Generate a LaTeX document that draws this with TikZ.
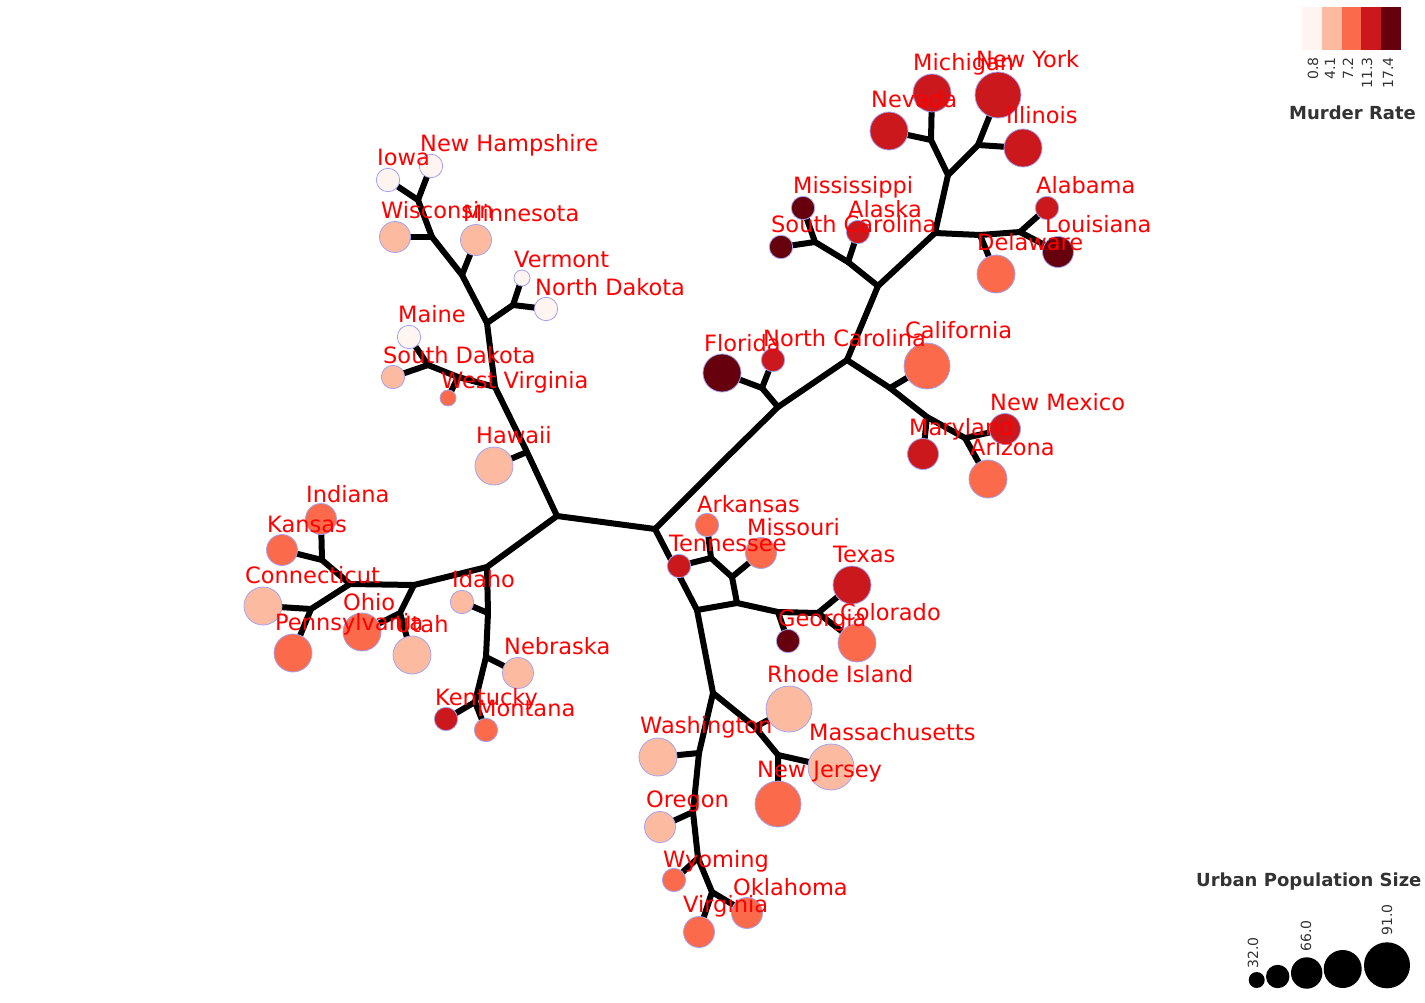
\documentclass[tikz,border=0pt]{standalone}
\usepackage{fontspec}
\setmainfont{DejaVu Sans}
\usetikzlibrary{backgrounds}
\definecolor{ca}{HTML}{FFF5F0}
\definecolor{cb}{HTML}{FCBBA1}
\definecolor{cc}{HTML}{FB6A4A}
\definecolor{cd}{HTML}{CB181D}
\definecolor{ce}{HTML}{67000D}
\definecolor{outl}{HTML}{A3A3F2}
\definecolor{legtext}{HTML}{333333}
\tikzset{
  br/.style={line width=6pt, line join=round, line cap=round},
  leaf/.style={circle, inner sep=0pt, draw=outl, line width=0.8pt},
  sa/.style={leaf, minimum size=16pt},
  sb/.style={leaf, minimum size=23.4pt},
  sc/.style={leaf, minimum size=31pt},
  sd/.style={leaf, minimum size=38pt},
  se/.style={leaf, minimum size=46pt},
  lbl/.style={anchor=base west, inner sep=0pt, text=red, font=\fontsize{22.5}{27}\selectfont},
  legtitle/.style={anchor=base west, inner sep=0pt, text=legtext, font=\fontsize{18}{21}\selectfont\bfseries},
  tickl/.style={rotate=90, inner sep=0pt, text=legtext, font=\fontsize{14}{17}\selectfont},
  sq/.style={rectangle, inner sep=0pt, minimum width=20pt, minimum height=43pt},
  dot/.style={circle, inner sep=0pt, fill=black},
}
\begin{document}
\begin{tikzpicture}[x=1pt,y=-1pt]
\useasboundingbox (0,0) rectangle (1425,1003);
% ---------- junction coordinates ----------
\coordinate (A) at (557,516);
\coordinate (B) at (655,529);
\coordinate (hwJ) at (527,452);
\coordinate (wvM) at (495,387);
\coordinate (vtM) at (487,323);
\coordinate (mnJ) at (462,275);
\coordinate (wiJ) at (432,237);
\coordinate (iaJ) at (418,200);
\coordinate (vtJ) at (513,305);
\coordinate (wvJ) at (458,377);
\coordinate (meJ) at (428,365);
\coordinate (L1) at (487,567);
\coordinate (L2) at (414,585);
\coordinate (idJ) at (488,613);
\coordinate (neJ) at (486,657);
\coordinate (kyJ) at (475,702);
\coordinate (ohJ) at (400,613);
\coordinate (L3) at (350,584);
\coordinate (ksJ) at (322,560);
\coordinate (ctJ) at (311,609);
\coordinate (R1) at (717,467);
\coordinate (R2) at (778,407);
\coordinate (flJ) at (762,388);
\coordinate (R3) at (847,360);
\coordinate (caJ) at (890,388);
\coordinate (mdJ) at (927,417);
\coordinate (nmJ) at (965,438);
\coordinate (R4) at (878,286);
\coordinate (akJ) at (848,262);
\coordinate (msJ) at (815,242);
\coordinate (R5) at (935,233);
\coordinate (deJ) at (980,235);
\coordinate (alJ) at (1020,232);
\coordinate (R6) at (948,175);
\coordinate (miJ) at (931,140);
\coordinate (nyJ) at (978,145);
\coordinate (S1) at (697,610);
\coordinate (S2) at (737,603);
\coordinate (moJ) at (732,577);
\coordinate (arJ) at (711,558);
\coordinate (gaJ) at (778,612);
\coordinate (txJ) at (818,613);
\coordinate (S3) at (713,693);
\coordinate (riJ) at (755,727);
\coordinate (njJ) at (778,755);
\coordinate (waJ) at (699,753);
\coordinate (orJ) at (693,812);
\coordinate (wyJ) at (698,858);
\coordinate (vaJ) at (712,892);
% ---------- leaves ----------
\node[sb, fill=ca] (IA) at (388,180) {};
\node[sb, fill=ca] (NH) at (431,166) {};
\node[sc, fill=cb] (WI) at (395,237) {};
\node[sc, fill=cb] (MN) at (476,240) {};
\node[sa, fill=ca] (VT) at (522,278) {};
\node[sb, fill=ca] (ND) at (546,309) {};
\node[sb, fill=ca] (ME) at (409,337) {};
\node[sb, fill=cb] (SD) at (393,377) {};
\node[sa, fill=cc] (WV) at (448,398) {};
\node[sd, fill=cb] (HI) at (494,466) {};
\node[sb, fill=cb] (ID) at (462,602) {};
\node[sc, fill=cb] (NE) at (518,673) {};
\node[sb, fill=cd] (KY) at (446,719) {};
\node[sb, fill=cc] (MT) at (486,730) {};
\node[sd, fill=cc] (OH) at (362,632) {};
\node[sd, fill=cb] (UT) at (412,655) {};
\node[sc, fill=cc] (KS) at (282,550) {};
\node[sc, fill=cc] (IN) at (321,519) {};
\node[sd, fill=cb] (CT) at (263,606) {};
\node[sd, fill=cc] (PA) at (293,653) {};
\node[sd, fill=ce] (FL) at (722,373) {};
\node[sb, fill=cd] (NC) at (773,360) {};
\node[se, fill=cc] (CA) at (927,366) {};
\node[sc, fill=cd] (MD) at (923,454) {};
\node[sc, fill=cd] (NM) at (1005,429) {};
\node[sd, fill=cc] (AZ) at (988,479) {};
\node[sb, fill=cd] (AK) at (858,232) {};
\node[sb, fill=ce] (MS) at (803,208) {};
\node[sb, fill=ce] (SC) at (781,247) {};
\node[sd, fill=cc] (DE) at (996,274) {};
\node[sb, fill=cd] (AL) at (1047,208) {};
\node[sc, fill=ce] (LA) at (1058,252) {};
\node[sd, fill=cd] (MI) at (932,93) {};
\node[sd, fill=cd] (NV) at (889,131) {};
\node[se, fill=cd] (NY) at (998,95) {};
\node[sd, fill=cd] (IL) at (1023,148) {};
\node[sc, fill=cc] (MO) at (761,553) {};
\node[sb, fill=cc] (AR) at (707,525) {};
\node[sb, fill=cd] (TN) at (679,566) {};
\node[sb, fill=ce] (GA) at (788,641) {};
\node[sd, fill=cd] (TX) at (852,585) {};
\node[sd, fill=cc] (CO) at (857,643) {};
\node[se, fill=cb] (RI) at (789,709) {};
\node[se, fill=cb] (MA) at (831,767) {};
\node[se, fill=cc] (NJ) at (778,804) {};
\node[sd, fill=cb] (WA) at (658,757) {};
\node[sc, fill=cb] (OR) at (660,827) {};
\node[sb, fill=cc] (WY) at (674,880) {};
\node[sc, fill=cc] (VA) at (699,932) {};
\node[sc, fill=cc] (OK) at (747,913) {};
% ---------- branches ----------
\begin{scope}[on background layer]
\draw[br] (A) -- (B);
\draw[br] (A) -- (hwJ) -- (wvM) -- (vtM) -- (mnJ) -- (wiJ) -- (iaJ) -- (IA.center);
\draw[br] (iaJ) -- (NH.center);
\draw[br] (wiJ) -- (WI.center);
\draw[br] (mnJ) -- (MN.center);
\draw[br] (vtM) -- (vtJ) -- (VT.center);
\draw[br] (vtJ) -- (ND.center);
\draw[br] (wvM) -- (wvJ) -- (meJ) -- (ME.center);
\draw[br] (meJ) -- (SD.center);
\draw[br] (wvJ) -- (WV.center);
\draw[br] (hwJ) -- (HI.center);
\draw[br] (A) -- (L1) -- (L2) -- (L3) -- (ksJ) -- (KS.center);
\draw[br] (ksJ) -- (IN.center);
\draw[br] (L3) -- (ctJ) -- (CT.center);
\draw[br] (ctJ) -- (PA.center);
\draw[br] (L2) -- (ohJ) -- (OH.center);
\draw[br] (ohJ) -- (UT.center);
\draw[br] (L1) -- (idJ) -- (ID.center);
\draw[br] (idJ) -- (neJ) -- (NE.center);
\draw[br] (neJ) -- (kyJ) -- (KY.center);
\draw[br] (kyJ) -- (MT.center);
\draw[br] (B) -- (R1) -- (R2) -- (flJ) -- (FL.center);
\draw[br] (flJ) -- (NC.center);
\draw[br] (R2) -- (R3) -- (caJ) -- (CA.center);
\draw[br] (caJ) -- (mdJ) -- (MD.center);
\draw[br] (mdJ) -- (nmJ) -- (NM.center);
\draw[br] (nmJ) -- (AZ.center);
\draw[br] (R3) -- (R4) -- (akJ) -- (AK.center);
\draw[br] (akJ) -- (msJ) -- (MS.center);
\draw[br] (msJ) -- (SC.center);
\draw[br] (R4) -- (R5) -- (deJ) -- (DE.center);
\draw[br] (deJ) -- (alJ) -- (AL.center);
\draw[br] (alJ) -- (LA.center);
\draw[br] (R5) -- (R6) -- (miJ) -- (MI.center);
\draw[br] (miJ) -- (NV.center);
\draw[br] (R6) -- (nyJ) -- (NY.center);
\draw[br] (nyJ) -- (IL.center);
\draw[br] (B) -- (S1) -- (S2) -- (moJ) -- (MO.center);
\draw[br] (moJ) -- (arJ) -- (AR.center);
\draw[br] (arJ) -- (TN.center);
\draw[br] (S2) -- (gaJ) -- (GA.center);
\draw[br] (gaJ) -- (txJ) -- (TX.center);
\draw[br] (txJ) -- (CO.center);
\draw[br] (S1) -- (S3) -- (riJ) -- (RI.center);
\draw[br] (riJ) -- (njJ) -- (NJ.center);
\draw[br] (njJ) -- (MA.center);
\draw[br] (S3) -- (waJ) -- (WA.center);
\draw[br] (waJ) -- (orJ) -- (OR.center);
\draw[br] (orJ) -- (wyJ) -- (WY.center);
\draw[br] (wyJ) -- (vaJ) -- (VA.center);
\draw[br] (vaJ) -- (OK.center);
\end{scope}
% ---------- labels ----------
\node[lbl] (IAt) at (377,166) {Iowa};
\node[lbl] (NHt) at (420,152) {New Hampshire};
\node[lbl] (WIt) at (381,219) {Wisconsin};
\node[lbl] (MNt) at (463,222) {Minnesota};
\node[lbl] (VTt) at (514,268) {Vermont};
\node[lbl] (NDt) at (535,295) {North Dakota};
\node[lbl] (MEt) at (398,323) {Maine};
\node[lbl] (SDt) at (383,363) {South Dakota};
\node[lbl] (WVt) at (441,388) {West Virginia};
\node[lbl] (HIt) at (476,443) {Hawaii};
\node[lbl] (INt) at (306,502) {Indiana};
\node[lbl] (KSt) at (267,532) {Kansas};
\node[lbl] (CTt) at (245,583) {Connecticut};
\node[lbl] (OHt) at (343,610) {Ohio};
\node[lbl] (PAt) at (275,630) {Pennsylvania};
\node[lbl] (UTt) at (395,632) {Utah};
\node[lbl] (IDt) at (452,587) {Idaho};
\node[lbl] (NEt) at (504,654) {Nebraska};
\node[lbl] (KYt) at (435,705) {Kentucky};
\node[lbl] (MTt) at (477,716) {Montana};
\node[lbl] (MIt) at (913,71) {Michigan};
\node[lbl] (NYt) at (976,68) {New York};
\node[lbl] (NVt) at (871,108) {Nevada};
\node[lbl] (ILt) at (1006,124) {Illinois};
\node[lbl] (MSt) at (793,194) {Mississippi};
\node[lbl] (AKt) at (848,218) {Alaska};
\node[lbl] (SCt) at (771,233) {South Carolina};
\node[lbl] (ALt) at (1036,194) {Alabama};
\node[lbl] (LAt) at (1045,233) {Louisiana};
\node[lbl] (DEt) at (977,251) {Delaware};
\node[lbl] (CAt) at (905,338) {California};
\node[lbl] (FLt) at (704,351) {Florida};
\node[lbl] (NCt) at (763,346) {North Carolina};
\node[lbl] (NMt) at (990,410) {New Mexico};
\node[lbl] (MDt) at (909,435) {Maryland};
\node[lbl] (AZt) at (970,455) {Arizona};
\node[lbl] (ARt) at (697,512) {Arkansas};
\node[lbl] (MOt) at (747,535) {Missouri};
\node[lbl] (TNt) at (669,551) {Tennessee};
\node[lbl] (TXt) at (833,562) {Texas};
\node[lbl] (COt) at (840,620) {Colorado};
\node[lbl] (GAt) at (778,626) {Georgia};
\node[lbl] (RIt) at (767,682) {Rhode Island};
\node[lbl] (WAt) at (640,733) {Washington};
\node[lbl] (MAt) at (809,740) {Massachusetts};
\node[lbl] (NJt) at (757,777) {New Jersey};
\node[lbl] (ORt) at (646,807) {Oregon};
\node[lbl] (WYt) at (663,867) {Wyoming};
\node[lbl] (OKt) at (733,895) {Oklahoma};
\node[lbl] (VAt) at (683,912) {Virginia};
% ---------- murder rate legend ----------
\node[sq, fill=ca] (q1) at (1311.9,28.5) {};
\node[sq, fill=cb] (q2) at (1331.7,28.5) {};
\node[sq, fill=cc] (q3) at (1351.5,28.5) {};
\node[sq, fill=cd] (q4) at (1371.3,28.5) {};
\node[sq, fill=ce] (q5) at (1391.1,28.5) {};
\node[tickl, anchor=base east] (t1) at (1318,57) {0.8};
\node[tickl, anchor=base east] (t2) at (1335,57) {4.1};
\node[tickl, anchor=base east] (t3) at (1353,57) {7.2};
\node[tickl, anchor=base east] (t4) at (1372,57) {11.3};
\node[tickl, anchor=base east] (t5) at (1393,57) {17.4};
\node[legtitle] (mrt) at (1289,120) {Murder Rate};
% ---------- urban population legend ----------
\node[legtitle] (upt) at (1196,886) {Urban Population Size};
\node[dot, minimum size=16pt] (d1) at (1256.7,980) {};
\node[dot, minimum size=23.4pt] (d2) at (1277.7,976.5) {};
\node[dot, minimum size=31.4pt] (d3) at (1306.7,973) {};
\node[dot, minimum size=38pt] (d4) at (1342.7,969) {};
\node[dot, minimum size=46pt] (d5) at (1387,965.3) {};
\node[tickl, anchor=base west] (u1) at (1258,969) {32.0};
\node[tickl, anchor=base west] (u2) at (1311,952) {66.0};
\node[tickl, anchor=base west] (u3) at (1392,936) {91.0};
\end{tikzpicture}
\end{document}
